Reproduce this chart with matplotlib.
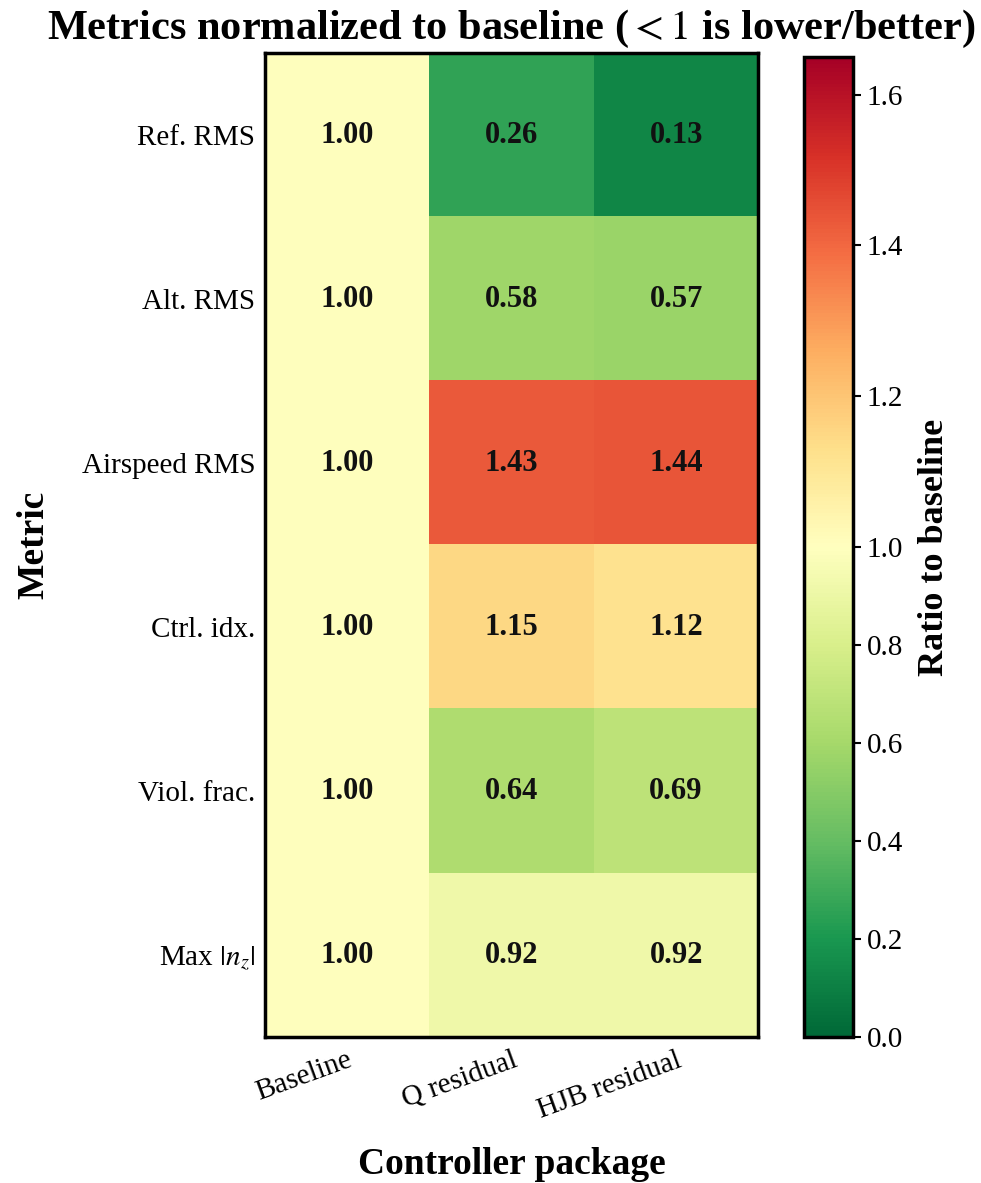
import numpy as np
import matplotlib
matplotlib.use("Agg")
import matplotlib.pyplot as plt
from matplotlib.colors import TwoSlopeNorm

plt.rcParams['font.family'] = ['Liberation Serif', 'DejaVu Serif']
plt.rcParams['mathtext.fontset'] = 'stix'

metrics = ["Ref. RMS", "Alt. RMS", "Airspeed RMS", "Ctrl. idx.", "Viol. frac.", r"Max $|n_z|$"]
controllers = ["Baseline", "Q residual", "HJB residual"]
baseline = [1.00, 1.00, 1.00, 1.00, 1.00, 1.00]
q_residual = [0.26, 0.58, 1.43, 1.15, 0.64, 0.92]
hjb_residual = [0.13, 0.57, 1.44, 1.12, 0.69, 0.92]

data = np.column_stack([baseline, q_residual, hjb_residual])
vmax = 1.65

fig = plt.figure(figsize=(9.81, 11.83), dpi=100)
ax = fig.add_axes([0.270, 0.123, 0.503, 0.832])
cax = fig.add_axes([0.820, 0.123, 0.050, 0.829])

norm = TwoSlopeNorm(vmin=0.0, vcenter=1.0, vmax=vmax)
im = ax.imshow(data, cmap='RdYlGn_r', norm=norm, aspect='auto')

for i in range(data.shape[0]):
    for j in range(data.shape[1]):
        ax.text(j, i, f"{data[i, j]:.2f}", ha='center', va='center',
                fontsize=22, fontweight='bold', color='#111111')

ax.set_xticks(range(len(controllers)))
ax.set_xticklabels(controllers, rotation=20, ha='right', va='top',
                   rotation_mode='anchor', fontsize=21)
ax.set_yticks(range(len(metrics)))
ax.set_yticklabels(metrics, fontsize=21)
ax.tick_params(length=0, pad=7)
for s in ax.spines.values():
    s.set_linewidth(2.5)
ax.set_xlabel("Controller package", fontsize=27, fontweight='bold', labelpad=17)
ax.set_ylabel("Metric", fontsize=27, fontweight='bold', labelpad=22)

cb = fig.colorbar(im, cax=cax)
cb.set_ticks([0.0, 0.2, 0.4, 0.6, 0.8, 1.0, 1.2, 1.4, 1.6])
cb.ax.tick_params(labelsize=21, length=6, width=1.5)
cb.outline.set_linewidth(2.5)
cb.set_label("Ratio to baseline", fontsize=26, fontweight='bold', labelpad=11)

fig.suptitle(r"Metrics normalized to baseline ($<1$ is lower/better)",
             fontsize=30.5, fontweight='bold', x=0.521, y=0.993)

fig.savefig("out.png", dpi=100)
